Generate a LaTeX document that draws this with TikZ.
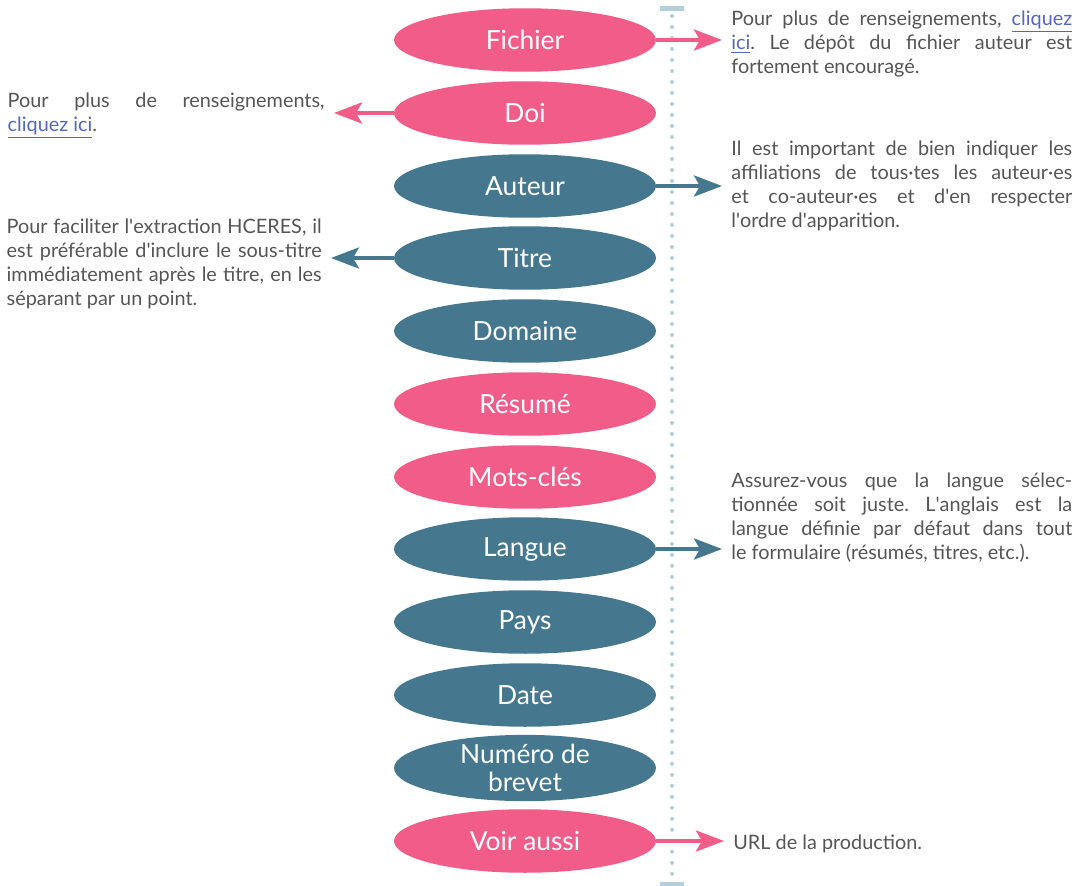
\documentclass[tikz,border=0pt]{standalone}
\usepackage{fontspec}
\setmainfont{Lato}
\usetikzlibrary{shapes.geometric,arrows.meta}
\definecolor{rose}{HTML}{F15C89}
\definecolor{petrole}{HTML}{45788F}
\definecolor{pointille}{HTML}{B3CFDA}
\definecolor{gristexte}{HTML}{555555}
\definecolor{bleulien}{HTML}{5566C0}
\newcommand{\clic}[1]{{\color{bleulien}\underline{#1}}}
\newcommand{\apo}{\textquotesingle}
\frenchspacing
\tikzset{
  bulle/.style={ellipse, minimum width=5.24cm, minimum height=1.27cm, inner sep=0pt,
    text=white, align=center, font=\fontsize{15}{15.5}\selectfont},
  rosebulle/.style={bulle, fill=rose},
  petrolebulle/.style={bulle, fill=petrole},
  note/.style={text=gristexte, text width=6.82cm, align=justify, inner sep=0pt,
    font=\fontsize{11.3}{13.6}\selectfont},
  fleche/.style={line width=0.08cm, shorten >=0.18cm,
    -{Stealth[length=0.56cm, width=0.42cm, inset=0.12cm]}},
}

\begin{document}
\begin{tikzpicture}[x=0.02cm, y=-0.02cm]
\useasboundingbox (0,0) rectangle (1079,886);

% axe pointille
\draw[pointille, line width=0.08cm, line cap=round, dash pattern=on 0pt off 0.22cm] (672,16) -- (672,880);
\draw[pointille, line width=0.1cm] (660,8) -- (684,8);
\draw[pointille, line width=0.1cm] (660,884) -- (684,884);

% les champs
\node[rosebulle] (fichier) at (525,40) {Fichier};
\node[rosebulle] (doi) at (525,113) {Doi};
\node[petrolebulle] (auteur) at (525,186) {Auteur};
\node[petrolebulle] (titre) at (525,258) {Titre};
\node[petrolebulle] (domaine) at (525,331) {Domaine};
\node[rosebulle] (resume) at (525,404) {Résumé};
\node[rosebulle] (motscles) at (525,477) {Mots-clés};
\node[petrolebulle] (langue) at (525,549) {Langue};
\node[petrolebulle] (pays) at (525,622) {Pays};
\node[petrolebulle] (date) at (525,695) {Date};
\node[petrolebulle] (brevet) at (525,768) {Numéro de\\brevet};
\node[rosebulle] (voiraussi) at (525,841) {Voir aussi};

% les remarques
\node[note, anchor=north west] (noteFichier) at (731,11)
  {Pour plus de renseignements, \clic{cliquez}\linebreak \clic{ici}. Le dépôt du fichier auteur est\linebreak fortement encouragé.};
\node[note, anchor=north east, text width=6.34cm] (noteDoi) at (325,93)
  {Pour plus de renseignements,\linebreak \clic{cliquez ici}.};
\node[note, anchor=north west] (noteAuteur) at (731,141)
  {Il est important de bien indiquer les\linebreak affiliations de tous·tes les auteur·es\linebreak et co-auteur·es et d\apo en respecter\linebreak l\apo ordre d\apo apparition.};
\node[note, anchor=north east, text width=6.3cm] (noteTitre) at (322,219)
  {Pour faciliter l\apo extraction HCERES, il\linebreak est préférable d\apo inclure le sous-titre\linebreak immédiatement après le titre, en les\linebreak séparant par un point.};
\node[note, anchor=north west] (noteLangue) at (731,473)
  {Assurez-vous que la langue sélec-\linebreak tionnée soit juste. L\apo anglais est la\linebreak langue définie par défaut dans tout\linebreak le formulaire (résumés, titres, etc.).};
\node[note, anchor=north west] (noteVoir) at (733,835) {URL de la production.};

% fleches
\draw[fleche, rose] (fichier.east) -- (fichier.east -| noteFichier.west);
\draw[fleche, rose] (doi.west) -- (doi.west -| noteDoi.east);
\draw[fleche, petrole] (auteur.east) -- (auteur.east -| noteAuteur.west);
\draw[fleche, petrole] (titre.west) -- (titre.west -| noteTitre.east);
\draw[fleche, petrole] (langue.east) -- (langue.east -| noteLangue.west);
\draw[fleche, rose] (voiraussi.east) -- (voiraussi.east -| noteVoir.west);
\end{tikzpicture}
\end{document}
